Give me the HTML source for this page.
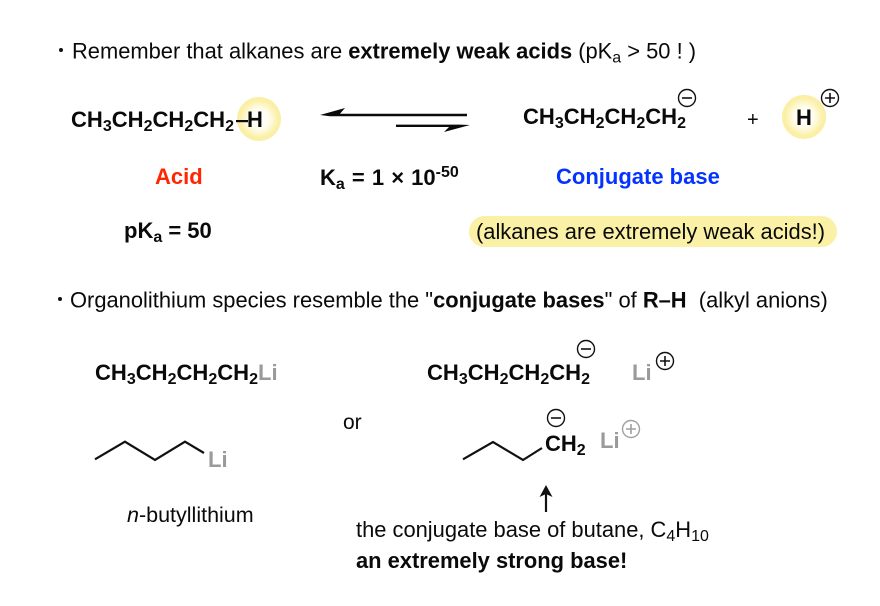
<!DOCTYPE html>
<html><head><meta charset="utf-8"><style>
html,body{margin:0;padding:0;background:#fff;width:880px;height:606px;overflow:hidden}
svg{display:block}
text{font-family:"Liberation Sans",sans-serif;fill:#0a0a0a;font-size:21.9px;white-space:pre}
.b{font-weight:bold}
.c{font-weight:bold;font-size:22px}
.f{font-weight:bold;font-size:22.05px}
.s{font-size:16px}
.g{fill:#9a9a9a}
</style></head><body>
<svg width="880" height="606" viewBox="0 0 880 606" xmlns="http://www.w3.org/2000/svg">
<defs>
<radialGradient id="y"><stop offset="0" stop-color="#ffffff"/><stop offset="0.45" stop-color="#fffdf0"/><stop offset="0.85" stop-color="#fbf0a8"/><stop offset="1" stop-color="#faeea0"/></radialGradient>
</defs>
<circle cx="61" cy="50" r="2" fill="#111"/>
<text x="72" y="58.500">Remember that alkanes are <tspan class="b">extremely weak acids</tspan> (pK<tspan class="s" dy="4">a</tspan><tspan dy="-4"> &gt; 50 ! )</tspan></text>

<circle cx="259" cy="119" r="22" fill="url(#y)"/>
<circle cx="804" cy="117" r="22" fill="url(#y)"/>
<rect x="469" y="216" width="368" height="31" rx="15.5" fill="#faf0a6"/>

<text class="f" x="71" y="127">CH<tspan class="s" dy="4">3</tspan><tspan dy="-4">CH</tspan><tspan class="s" dy="4">2</tspan><tspan dy="-4">CH</tspan><tspan class="s" dy="4">2</tspan><tspan dy="-4">CH</tspan><tspan class="s" dy="4">2</tspan></text>
<rect x="236" y="120" width="12" height="2.2" fill="#0a0a0a"/>
<text class="c" x="247" y="127">H</text>

<path d="M320 115L345 108L340 113.8H467V116.2H330Z" fill="#0a0a0a"/>
<path d="M470 125L444 132L449 127H396V124.6H460Z" fill="#0a0a0a"/>

<text class="f" x="523" y="124">CH<tspan class="s" dy="4">3</tspan><tspan dy="-4">CH</tspan><tspan class="s" dy="4">2</tspan><tspan dy="-4">CH</tspan><tspan class="s" dy="4">2</tspan><tspan dy="-4">CH</tspan><tspan class="s" dy="4">2</tspan></text>
<circle cx="687" cy="98" r="8.5" fill="none" stroke="#111" stroke-width="1.4"/>
<path d="M682 98H692" stroke="#111" stroke-width="1.6"/>
<text x="747" y="126" style="font-size:20px">+</text>
<text class="c" x="796" y="125">H</text>
<circle cx="830" cy="98" r="8.5" fill="none" stroke="#111" stroke-width="1.4"/>
<path d="M825 98H835M830 93V103" stroke="#111" stroke-width="1.6"/>

<text class="c" x="155" y="184" style="fill:#ff2600">Acid</text>
<text class="c" x="320" y="185" word-spacing="1">K<tspan class="s" dy="4">a</tspan><tspan dy="-4"> = 1 × 10</tspan><tspan class="s" dy="-8">-50</tspan></text>
<text class="c" x="556" y="184" style="fill:#0433ff">Conjugate base</text>
<text class="c" x="124" y="238">pK<tspan class="s" dy="4">a</tspan><tspan dy="-4"> = 50</tspan></text>
<text x="476" y="239" textLength="349">(alkanes are extremely weak acids!)</text>

<circle cx="60" cy="299" r="2" fill="#111"/>
<text x="70" y="307.500">Organolithium species resemble the "<tspan class="b">conjugate bases</tspan>" of <tspan class="b">R–H</tspan>  (alkyl anions)</text>

<text class="f" x="95" y="380">CH<tspan class="s" dy="4">3</tspan><tspan dy="-4">CH</tspan><tspan class="s" dy="4">2</tspan><tspan dy="-4">CH</tspan><tspan class="s" dy="4">2</tspan><tspan dy="-4">CH</tspan><tspan class="s" dy="4">2</tspan></text>
<text class="c g" x="258" y="380">Li</text>
<path d="M95 459.3L125 441.7L155 460L185 441.7L204 453" fill="none" stroke="#111" stroke-width="2.2"/>
<text class="c g" x="208" y="467">Li</text>
<text x="127" y="522" style="font-size:21.5px"><tspan font-style="italic">n</tspan>-butyllithium</text>

<text x="343" y="429" style="font-size:21px">or</text>

<text class="f" x="427" y="380">CH<tspan class="s" dy="4">3</tspan><tspan dy="-4">CH</tspan><tspan class="s" dy="4">2</tspan><tspan dy="-4">CH</tspan><tspan class="s" dy="4">2</tspan><tspan dy="-4">CH</tspan><tspan class="s" dy="4">2</tspan></text>
<circle cx="586" cy="349" r="8.5" fill="none" stroke="#111" stroke-width="1.4"/>
<path d="M581 349H591" stroke="#111" stroke-width="1.6"/>
<text class="c g" x="632" y="380">Li</text>
<circle cx="665" cy="361" r="8.5" fill="none" stroke="#111" stroke-width="1.4"/>
<path d="M660 361H670M665 356V366" stroke="#111" stroke-width="1.6"/>

<path d="M463 459.3L493 442L523 460L542 448" fill="none" stroke="#111" stroke-width="2.2"/>
<text class="c" x="545" y="451">CH<tspan class="s" dy="4">2</tspan></text>
<circle cx="556" cy="418" r="8.5" fill="none" stroke="#111" stroke-width="1.4"/>
<path d="M551 418H561" stroke="#111" stroke-width="1.6"/>
<text class="c g" x="600" y="448">Li</text>
<circle cx="631" cy="429" r="8.5" fill="none" stroke="#a0a0a0" stroke-width="1.4"/>
<path d="M626 429H636M631 424V434" stroke="#a0a0a0" stroke-width="1.6"/>

<path d="M546 512V492" stroke="#111" stroke-width="2.2"/>
<path d="M546 485L539.500 497L546 494L552.500 497Z" fill="#111"/>
<text x="356" y="537">the conjugate base of butane, C<tspan class="s" dy="4">4</tspan><tspan dy="-4">H</tspan><tspan class="s" dy="4">10</tspan></text>
<text class="b" x="356" y="568">an extremely strong base!</text>
</svg>
</body></html>
